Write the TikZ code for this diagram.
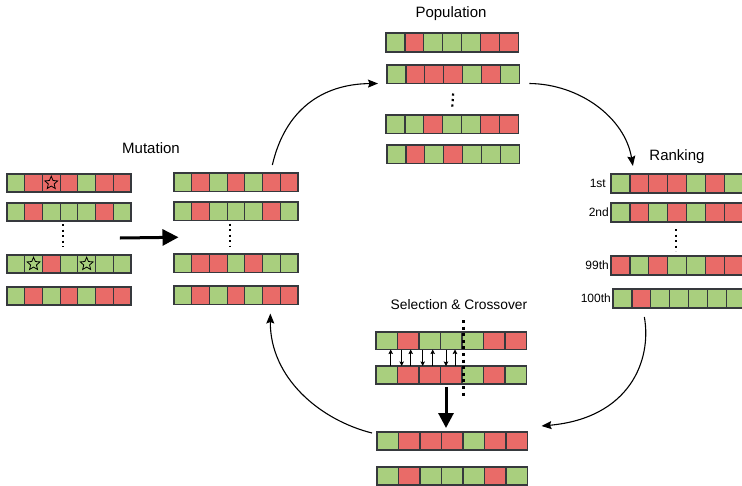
\documentclass[tikz,border=0pt]{standalone}
\usepackage{fontspec}
\setmainfont{Liberation Sans}
\usetikzlibrary{arrows.meta,shapes.geometric,calc}
\definecolor{cellg}{HTML}{A9CF7E}
\definecolor{cellr}{HTML}{E96B68}
\definecolor{edgec}{HTML}{36393D}
\newcommand\chrow[6]{\foreach \c [count=\i] in {#6}{\node[cell=\c, minimum width=#4pt, minimum height=#5pt, anchor=north west] (#1c\i) at ({#2+(\i-1)*#4},#3) {};}}
\begin{document}
\begin{tikzpicture}[x=1pt,y=-1pt,
  cell/.style={draw=edgec, line width=1.2pt, fill=cell#1, inner sep=0pt, outer sep=0pt},
  title/.style={font=\fontsize{15}{18}\selectfont, inner sep=0pt},
  rlab/.style={font=\fontsize{12}{14}\selectfont, inner sep=0pt, anchor=east},
  dotline/.style={line width=2.2pt, dash pattern=on 2.2pt off 3.3pt, black},
  crossline/.style={line width=3pt, dash pattern=on 3pt off 3.6pt, black},
  curvearrow/.style={line width=1.1pt, -{Stealth[length=10pt, width=8pt, inset=1.5pt]}},
  bigarrow/.style={line width=3pt, -{Triangle[length=16pt, width=16pt]}},
  smallarrow/.style={line width=0.8pt, -{Stealth[length=4.5pt, width=4.5pt, inset=0.8pt]}},
  starmark/.style={star, star points=5, star point ratio=2.2, draw=black, line width=0.8pt, minimum size=13.5pt, inner sep=0pt}]
\useasboundingbox (0,0) rectangle (742,485);

% titles
\node[title] (tpop) at (451,14) {Population};
\node[title] (trank) at (677,157) {Ranking};
\node[title] (tmut) at (151,148) {Mutation};
\node[title, font=\fontsize{13.8}{16}\selectfont] (tsel) at (459,305) {Selection \& Crossover};

% population
\chrow{P1}{386}{33}{18.9}{19}{g,r,g,g,g,r,r}
\chrow{P2}{387}{65}{18.9}{18.5}{g,r,r,r,g,r,g}
\chrow{P3}{386}{115}{18.9}{18.5}{g,g,r,g,g,r,r}
\chrow{P4}{387}{145}{18.9}{18.5}{g,r,g,r,g,g,g}
\draw[dotline] ($(P2c4.south)+(0,10)$) -- ($(P3c4.north)+(0,-6)$);

% ranking
\chrow{R1}{611}{174}{18.9}{19}{g,r,r,r,g,r,g}
\chrow{R2}{611}{203}{18.9}{19}{g,r,g,r,g,r,r}
\chrow{R3}{611}{256}{18.9}{19}{r,g,r,g,g,r,r}
\chrow{R4}{613}{289}{18.9}{19}{g,r,g,g,g,g,g}
\draw[dotline] ($(R2c4.south)+(-1,7)$) -- ($(R3c4.north)+(-1,-5)$);
\node[rlab] (lab1) at ($(R1c1.west)+(-5,0)$) {1st};
\node[rlab] (lab2) at ($(R2c1.west)+(-2,0)$) {2nd};
\node[rlab] (lab99) at ($(R3c1.west)+(-2,0)$) {99th};
\node[rlab] (lab100) at ($(R4c1.west)+(-2,0)$) {100th};

% mutation (left)
\chrow{L1}{7}{174}{17.7}{18}{g,r,r,r,g,r,r}
\chrow{L2}{7}{203}{17.7}{18}{g,r,g,g,g,r,g}
\chrow{L3}{7}{255}{17.7}{18}{g,g,r,g,g,g,g}
\chrow{L4}{7}{287}{17.7}{18}{g,r,g,r,g,r,r}
\draw[dotline] ($(L2c4.south west)+(3,3)$) -- ($(L3c4.north west)+(3,-8)$);
\node[starmark] (st1) at (L1c3) {};
\node[starmark] (st2) at (L3c2) {};
\node[starmark] (st3) at (L3c5) {};

% mutated (middle)
\chrow{M1}{174}{173}{17.7}{18.5}{g,r,g,r,g,r,r}
\chrow{M2}{174}{202}{17.7}{18.5}{g,r,g,g,g,r,g}
\chrow{M3}{174}{254}{17.7}{18.5}{g,r,r,g,r,g,g}
\chrow{M4}{174}{286}{17.7}{18.5}{g,r,g,r,g,r,r}
\draw[dotline] ($(M2c4.south west)+(3,3)$) -- ($(M3c4.north west)+(3,-8)$);

% mutation arrow
\draw[bigarrow] ($(L2c7.south east)!0.5!(L3c7.north east)+(-11,0)$) -- ($(M2c1.south west)!0.5!(M3c1.north west)+(4.5,0)$);

% selection & crossover
\chrow{S1}{376}{332}{21.5}{17.5}{g,r,g,g,g,r,r}
\chrow{S2}{376}{366}{21.5}{18}{g,r,r,r,g,r,g}
\foreach \k/\dx in {1/14.7,2/13.2,3/13.7,4/14.5}
  \draw[smallarrow] ($(S2c\k.north west)+(\dx,0)$) -- ($(S1c\k.south west)+(\dx,0)$);
\foreach \k/\dx in {2/4.2,3/3.7,4/5.5}
  \draw[smallarrow] ($(S1c\k.south west)+(\dx,0)$) -- ($(S2c\k.north west)+(\dx,0)$);
\draw[crossline] ($(S1c5.north west)+(1,-12)$) -- ($(S2c5.south west)+(1,13)$);

\chrow{C}{377}{432}{21.5}{18}{g,r,r,r,g,r,r}
\chrow{D}{377}{467}{21.5}{18}{g,r,g,g,g,r,g}
\draw[bigarrow, -{Triangle[length=15pt, width=15pt]}] ($(S2c4.south west)+(5.5,3)$) -- ($(Cc4.north west)+(4.5,-4)$);

% cycle arrows
\draw[curvearrow] ($(M1c6.north)+(1,-8)$) .. controls (285,110) and (322,84) .. ($(P2c1.south west)+(-9,0)$);
\draw[curvearrow] ($(P2c7.south east)+(10,0)$) .. controls (580,84) and (625,118) .. ($(R1c2.north west)+(3,-8)$);
\draw[curvearrow] ($(R4c2.south)+(3,9)$) .. controls (652,360) and (630,418) .. ($(Cc7.north east)+(14,-6)$);
\draw[curvearrow] ($(Cc1.north west)+(-5,1)$) .. controls (320,420) and (270,378) .. ($(M4c6.south)+(-1,9)$);
\end{tikzpicture}
\end{document}
